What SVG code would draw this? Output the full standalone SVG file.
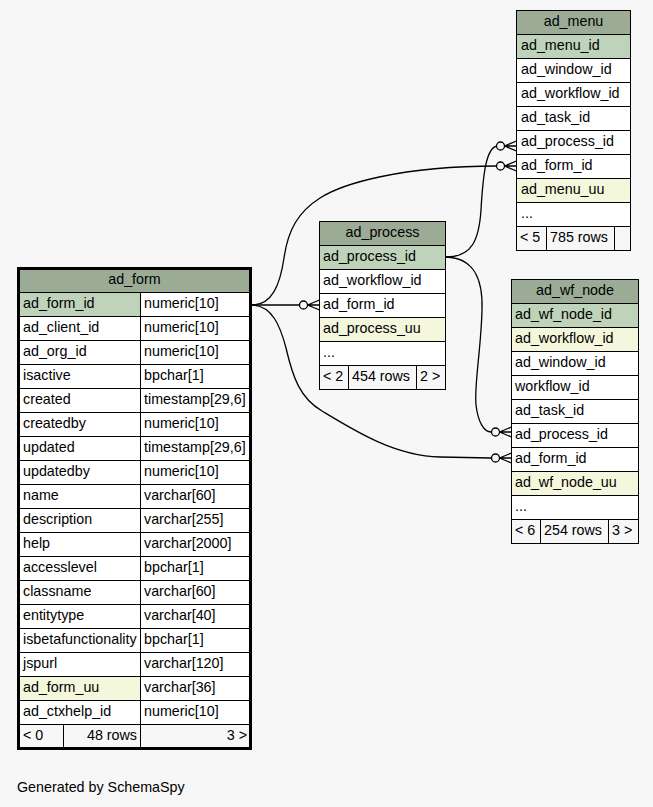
<svg xmlns="http://www.w3.org/2000/svg" xmlns:xlink="http://www.w3.org/1999/xlink" width="653" height="807" viewBox="0 0 653 807">
<style>
text{font-family:"Liberation Sans",Arial,Helvetica,sans-serif;font-size:14.3px;fill:#000}
.c{text-anchor:middle}
.e{text-anchor:end}
.t rect{stroke:#000;stroke-width:1}
.h{fill:#9bab96}
.pk{fill:#bfd2ba}
.uu{fill:#f4f7db}
.w{fill:#ffffff}
.f{fill:#f7f7f7}
.t rect.outer{fill:none;stroke:#000;stroke-width:3}
.conn path{fill:none;stroke:#000;stroke-width:1.3}
.crow circle{fill:#f7f7f7;stroke:#000;stroke-width:1.3}
.crow path{fill:none;stroke:#000;stroke-width:1.3}
</style>
<defs>
<g id="crowodot" class="crow">
<circle cx="-16" cy="0" r="4"/>
<path d="M-12,0 L0,0 M-12,0 L0,-5 M-12,0 L0,5"/>
</g>
</defs>
<rect x="0" y="0" width="653" height="807" fill="#f7f7f7"/>

<g id="connectors" class="conn">
<path d="M252,305 L299,305"/>
<path d="M252,305 C272,305 280,285 284,258 C288,230 298,212 320,198 C342,184 400,166 497,166"/>
<path d="M252,305 C272,306 280,325 286,348 C293,378 300,398 322,411 C355,431 395,456 440,457 L491,458"/>
<path d="M446,257 C472,257 479,240 481,210 C483,175 486,148 497,146"/>
<path d="M446,257 C475,258 483,280 482,310 C481,350 474,385 476,405 C478,422 484,432 491,432"/>
<use xlink:href="#crowodot" x="319.5" y="305"/>
<use xlink:href="#crowodot" x="516.5" y="146"/>
<use xlink:href="#crowodot" x="516.5" y="166"/>
<use xlink:href="#crowodot" x="511.5" y="432"/>
<use xlink:href="#crowodot" x="511.5" y="458"/>
</g>

<g id="ad_menu" class="t">
<rect class="h" x="516.5" y="10.5" width="114" height="24"/>
<text class="c" x="573.5" y="26">ad_menu</text>
<rect class="pk" x="516.5" y="34.5" width="114" height="24"/>
<text x="521" y="50">ad_menu_id</text>
<rect class="w" x="516.5" y="58.5" width="114" height="24"/>
<text x="521" y="74">ad_window_id</text>
<rect class="w" x="516.5" y="82.5" width="114" height="24"/>
<text x="521" y="98">ad_workflow_id</text>
<rect class="w" x="516.5" y="106.5" width="114" height="24"/>
<text x="521" y="122">ad_task_id</text>
<rect class="w" x="516.5" y="130.5" width="114" height="24"/>
<text x="521" y="146">ad_process_id</text>
<rect class="w" x="516.5" y="154.5" width="114" height="24"/>
<text x="521" y="170">ad_form_id</text>
<rect class="uu" x="516.5" y="178.5" width="114" height="24"/>
<text x="521" y="194">ad_menu_uu</text>
<rect class="w" x="516.5" y="202.5" width="114" height="24"/>
<text x="521" y="218">...</text>
<rect class="f" x="516.5" y="226.5" width="30" height="24"/>
<rect class="f" x="546.5" y="226.5" width="68" height="24"/>
<rect class="f" x="614.5" y="226.5" width="16" height="24"/>
<text x="520" y="242">&lt; 5</text>
<text x="550" y="242">785 rows</text>
</g>

<g id="ad_process" class="t">
<rect class="h" x="319.5" y="221.5" width="126" height="24"/>
<text class="c" x="382.5" y="237">ad_process</text>
<rect class="pk" x="319.5" y="245.5" width="126" height="24"/>
<text x="323" y="261">ad_process_id</text>
<rect class="w" x="319.5" y="269.5" width="126" height="24"/>
<text x="323" y="285">ad_workflow_id</text>
<rect class="w" x="319.5" y="293.5" width="126" height="24"/>
<text x="323" y="309">ad_form_id</text>
<rect class="uu" x="319.5" y="317.5" width="126" height="24"/>
<text x="323" y="333">ad_process_uu</text>
<rect class="w" x="319.5" y="341.5" width="126" height="24"/>
<text x="323" y="357">...</text>
<rect class="f" x="319.5" y="365.5" width="29" height="24"/>
<rect class="f" x="348.5" y="365.5" width="68" height="24"/>
<rect class="f" x="416.5" y="365.5" width="29" height="24"/>
<text x="323" y="381">&lt; 2</text>
<text x="352" y="381">454 rows</text>
<text x="420" y="381">2 &gt;</text>
</g>

<g id="ad_wf_node" class="t">
<rect class="h" x="511.5" y="279.5" width="127" height="24"/>
<text class="c" x="575" y="295">ad_wf_node</text>
<rect class="pk" x="511.5" y="303.5" width="127" height="24"/>
<text x="515" y="319">ad_wf_node_id</text>
<rect class="uu" x="511.5" y="327.5" width="127" height="24"/>
<text x="515" y="343">ad_workflow_id</text>
<rect class="w" x="511.5" y="351.5" width="127" height="24"/>
<text x="515" y="367">ad_window_id</text>
<rect class="w" x="511.5" y="375.5" width="127" height="24"/>
<text x="515" y="391">workflow_id</text>
<rect class="w" x="511.5" y="399.5" width="127" height="24"/>
<text x="515" y="415">ad_task_id</text>
<rect class="w" x="511.5" y="423.5" width="127" height="24"/>
<text x="515" y="439">ad_process_id</text>
<rect class="w" x="511.5" y="447.5" width="127" height="24"/>
<text x="515" y="463">ad_form_id</text>
<rect class="uu" x="511.5" y="471.5" width="127" height="24"/>
<text x="515" y="487">ad_wf_node_uu</text>
<rect class="w" x="511.5" y="495.5" width="127" height="24"/>
<text x="515" y="511">...</text>
<rect class="f" x="511.5" y="519.5" width="29" height="24"/>
<rect class="f" x="540.5" y="519.5" width="68" height="24"/>
<rect class="f" x="608.5" y="519.5" width="30" height="24"/>
<text x="515" y="535">&lt; 6</text>
<text x="544" y="535">254 rows</text>
<text x="612" y="535">3 &gt;</text>
</g>

<g id="ad_form" class="t">
<rect class="h" x="18.5" y="268.5" width="232" height="24"/>
<text class="c" x="134.5" y="284">ad_form</text>
<rect class="pk" x="18.5" y="292.5" width="122" height="24"/><rect class="w" x="140.5" y="292.5" width="110" height="24"/>
<text x="23" y="308">ad_form_id</text><text x="144" y="308">numeric[10]</text>
<rect class="w" x="18.5" y="316.5" width="122" height="24"/><rect class="w" x="140.5" y="316.5" width="110" height="24"/>
<text x="23" y="332">ad_client_id</text><text x="144" y="332">numeric[10]</text>
<rect class="w" x="18.5" y="340.5" width="122" height="24"/><rect class="w" x="140.5" y="340.5" width="110" height="24"/>
<text x="23" y="356">ad_org_id</text><text x="144" y="356">numeric[10]</text>
<rect class="w" x="18.5" y="364.5" width="122" height="24"/><rect class="w" x="140.5" y="364.5" width="110" height="24"/>
<text x="23" y="380">isactive</text><text x="144" y="380">bpchar[1]</text>
<rect class="w" x="18.5" y="388.5" width="122" height="24"/><rect class="w" x="140.5" y="388.5" width="110" height="24"/>
<text x="23" y="404">created</text><text x="144" y="404">timestamp[29,6]</text>
<rect class="w" x="18.5" y="412.5" width="122" height="24"/><rect class="w" x="140.5" y="412.5" width="110" height="24"/>
<text x="23" y="428">createdby</text><text x="144" y="428">numeric[10]</text>
<rect class="w" x="18.5" y="436.5" width="122" height="24"/><rect class="w" x="140.5" y="436.5" width="110" height="24"/>
<text x="23" y="452">updated</text><text x="144" y="452">timestamp[29,6]</text>
<rect class="w" x="18.5" y="460.5" width="122" height="24"/><rect class="w" x="140.5" y="460.5" width="110" height="24"/>
<text x="23" y="476">updatedby</text><text x="144" y="476">numeric[10]</text>
<rect class="w" x="18.5" y="484.5" width="122" height="24"/><rect class="w" x="140.5" y="484.5" width="110" height="24"/>
<text x="23" y="500">name</text><text x="144" y="500">varchar[60]</text>
<rect class="w" x="18.5" y="508.5" width="122" height="24"/><rect class="w" x="140.5" y="508.5" width="110" height="24"/>
<text x="23" y="524">description</text><text x="144" y="524">varchar[255]</text>
<rect class="w" x="18.5" y="532.5" width="122" height="24"/><rect class="w" x="140.5" y="532.5" width="110" height="24"/>
<text x="23" y="548">help</text><text x="144" y="548">varchar[2000]</text>
<rect class="w" x="18.5" y="556.5" width="122" height="24"/><rect class="w" x="140.5" y="556.5" width="110" height="24"/>
<text x="23" y="572">accesslevel</text><text x="144" y="572">bpchar[1]</text>
<rect class="w" x="18.5" y="580.5" width="122" height="24"/><rect class="w" x="140.5" y="580.5" width="110" height="24"/>
<text x="23" y="596">classname</text><text x="144" y="596">varchar[60]</text>
<rect class="w" x="18.5" y="604.5" width="122" height="24"/><rect class="w" x="140.5" y="604.5" width="110" height="24"/>
<text x="23" y="620">entitytype</text><text x="144" y="620">varchar[40]</text>
<rect class="w" x="18.5" y="628.5" width="122" height="24"/><rect class="w" x="140.5" y="628.5" width="110" height="24"/>
<text x="23" y="644">isbetafunctionality</text><text x="144" y="644">bpchar[1]</text>
<rect class="w" x="18.5" y="652.5" width="122" height="24"/><rect class="w" x="140.5" y="652.5" width="110" height="24"/>
<text x="23" y="668">jspurl</text><text x="144" y="668">varchar[120]</text>
<rect class="uu" x="18.5" y="676.5" width="122" height="24"/><rect class="w" x="140.5" y="676.5" width="110" height="24"/>
<text x="23" y="692">ad_form_uu</text><text x="144" y="692">varchar[36]</text>
<rect class="w" x="18.5" y="700.5" width="122" height="24"/><rect class="w" x="140.5" y="700.5" width="110" height="24"/>
<text x="23" y="716">ad_ctxhelp_id</text><text x="144" y="716">numeric[10]</text>
<rect class="f" x="18.5" y="724.5" width="45" height="24"/>
<rect class="f" x="63.5" y="724.5" width="77" height="24"/>
<rect class="f" x="140.5" y="724.5" width="110" height="24"/>
<text x="23" y="740">&lt; 0</text>
<text class="e" x="137" y="740">48 rows</text>
<text class="e" x="247" y="740">3 &gt;</text>
<rect class="outer" x="18.5" y="268.5" width="232" height="480"/>
</g>

<text x="17" y="792">Generated by SchemaSpy</text>
</svg>
